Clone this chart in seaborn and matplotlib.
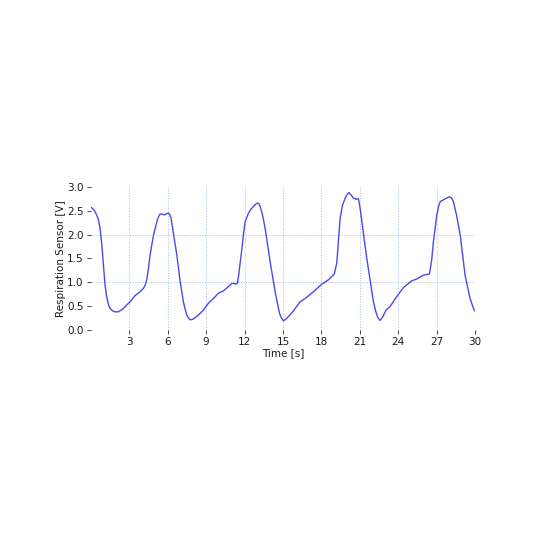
import numpy as np
import pandas as pd
import matplotlib
matplotlib.use("Agg")
import matplotlib.pyplot as plt
import seaborn as sns

# Data
time_s = [0.03, 0.2, 0.34, 0.48, 0.6, 0.73, 0.87, 0.99, 1.12, 1.23, 1.33, 1.42, 1.51, 1.7, 1.9, 2.16, 2.4,
          2.55, 2.8, 3.07, 3.46, 3.85, 4.11, 4.25, 4.37, 4.5, 4.63, 4.9, 5.16, 5.3, 5.42, 5.6, 5.75, 5.85,
          6.06, 6.17, 6.27, 6.45, 6.72, 6.98, 7.23, 7.38, 7.5, 7.62, 7.76, 8.01, 8.4, 8.8, 9.18, 9.58,
          9.97, 10.36, 10.75, 11.0, 11.14, 11.3, 11.45, 11.53, 11.8, 11.95, 12.05, 12.31, 12.5, 12.7,
          12.85, 13.0, 13.12, 13.22, 13.4, 13.61, 14.0, 14.39, 14.6, 14.73, 14.88, 15.04, 15.2, 15.43,
          15.82, 16.34, 16.73, 17.38, 18.03, 18.55, 19.0, 19.2, 19.35, 19.46, 19.65, 19.85, 20.0, 20.14,
          20.35, 20.5, 20.75, 20.89, 21.02, 21.54, 22.06, 22.25, 22.4, 22.58, 22.8, 23.05, 23.36, 23.88,
          24.4, 25.06, 25.45, 25.96, 26.2, 26.43, 26.6, 26.74, 27.0, 27.15, 27.27, 27.66, 27.99, 28.15,
          28.3, 28.55, 28.83, 29.21, 29.6, 29.8, 29.94]
resp_v = [2.57, 2.53, 2.48, 2.40, 2.31, 2.13, 1.78, 1.36, 0.94, 0.72, 0.59, 0.50, 0.45, 0.40, 0.38, 0.38,
          0.42, 0.45, 0.52, 0.59, 0.72, 0.80, 0.87, 0.94, 1.05, 1.28, 1.57, 1.99, 2.27, 2.38, 2.43, 2.43,
          2.41, 2.43, 2.45, 2.42, 2.34, 2.03, 1.57, 1.01, 0.59, 0.42, 0.31, 0.25, 0.21, 0.23, 0.31, 0.42,
          0.56, 0.66, 0.77, 0.82, 0.91, 0.97, 0.98, 0.96, 0.98, 1.12, 1.71, 2.08, 2.27, 2.45, 2.53, 2.59,
          2.63, 2.66, 2.65, 2.59, 2.42, 2.13, 1.43, 0.80, 0.52, 0.35, 0.25, 0.19, 0.22, 0.28,
          0.40, 0.59, 0.66, 0.80, 0.96, 1.05, 1.17, 1.40, 1.95, 2.34, 2.62, 2.76, 2.84, 2.88,
          2.82, 2.76, 2.74, 2.75, 2.55, 1.50, 0.59, 0.38, 0.26, 0.20, 0.28, 0.42, 0.49, 0.70,
          0.89, 1.03, 1.07, 1.15, 1.16, 1.17, 1.45, 1.85, 2.40, 2.60, 2.69, 2.75, 2.79, 2.77,
          2.69, 2.40, 1.99, 1.15, 0.66, 0.50, 0.40]

x_ticks = [3, 6, 9, 12, 15, 18, 21, 24, 27, 30]
y_ticks = [0.0, 0.5, 1.0, 1.5, 2.0, 2.5, 3.0]
y_grid = [1.0, 2.0]

df = pd.DataFrame({"Time [s]": time_s, "Respiration Sensor [V]": resp_v})

sns.set_theme(style="white")
plt.rcParams['font.family'] = ['DejaVu Sans']

fig = plt.figure(figsize=(5.4, 5.4), dpi=100)
ax = fig.add_axes([0.168, 0.389, 0.712, 0.265])

grid_kw = dict(color="#9cc0e6", linestyle=":", linewidth=0.7, zorder=0)
for yv in y_grid:
    ax.axhline(yv, **grid_kw)
for xv in x_ticks[:-1]:
    ax.axvline(xv, **grid_kw)

sns.lineplot(data=df, x="Time [s]", y="Respiration Sensor [V]", ax=ax,
             color="#4a4aea", linewidth=1.0, zorder=3)

ax.set_xlim(0, 30)
ax.set_ylim(0, 3.0)
ax.set_xticks(x_ticks)
ax.set_yticks(y_ticks)
ax.set_xticklabels([str(v) for v in x_ticks])
ax.set_yticklabels([f"{v:.1f}" for v in y_ticks])
ax.tick_params(axis="both", labelsize=7.5, length=3, width=0.7, color="#444444",
               labelcolor="#1a1a1a", left=True, bottom=True, direction="out", pad=2)
ax.set_xlabel("Time [s]", fontsize=7.5, labelpad=1, color="#1a1a1a")
ax.set_ylabel("Respiration Sensor [V]", fontsize=7.5, labelpad=1, color="#1a1a1a")
for s in ax.spines.values():
    s.set_visible(False)

fig.savefig("out.png", dpi=100)
